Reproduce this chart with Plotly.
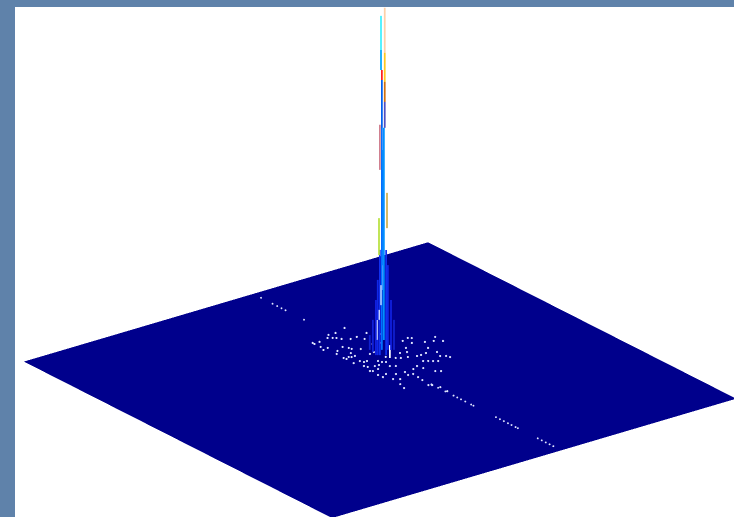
import plotly.graph_objects as go

# Ground plane (flat navy sheet)
PLANE_X = [-1, 1]
PLANE_Y = [-1, 1]
PLANE_Z = [[0, 0], [0, 0]]

# Dashed white row along the y direction
ROW_X = 0.128
ROW_Y = [.940, .865, .835, .807, .781, .661, -.165, -.209, -.256, -.309, -.333, -.357, -.385,
         -.423, -.438, -.584, -.610, -.635, -.662, -.685, -.711, -.726, -.855, -.881, -.907,
         -.932, -.956]

# Speckle around the peak
DOT_X = [.012, .011, .040, .012, .002, .028, .111, .089, .105, .117, .127, .155, .204, .145, .081, .040,
         .019, .094, .097, .069, .125, .199, .242, .187, .016, .019, .038, .047, .064, .016, .048, .055,
         .070, .030, .036, .018, .027, .064, .105, .056, .019, .123, .193, .147, .083, .228, .299, .283,
         .154, .111, .124, .179, .223, .273, .251, .340, .352, .322, .306, .369, .432, .403, .432, .342,
         .304, .345, .330, .349, .355, .258, .277, .223, .195, .262, .277, .293, .246, .196, .166, .203,
         .130, .111, .050, .021, .081, .041, .032, .020, .113, .135, .126, .131, .114, .126, .222, .240,
         .136, .139, .063, .121]
DOT_Y = [.453, .440, .445, .401, .370, .376, .480, .457, .445, .436, .416, .394, .498, .479, .349, .329,
         .306, .326, .311, .280, .289, .361, .405, .396, .257, .242, .253, .246, .247, .192, .194, .176,
         .177, .144, .127, .089, .082, .118, .151, .086, .038, .227, .301, .233, .116, .288, .349, .361,
         .165, .133, .124, .133, .163, .190, .154, .266, .256, .216, .254, .193, .209, .180, .158, .137,
         .101, .083, .043, .029, .011, .098, .097, .112, .121, .031, .019, .007, .043, .017, .002, -.014,
         .068, .082, .027, .009, .003, -.031, -.089, -.130, -.034, -.038, -.109, -.075, -.164, -.173,
         -.067, -.081, -.258, -.209, -.048, -.003]

# Peak ridges: position, height span, colour
RIDGE_X = [.104, .114, .123, .129, .136, .155, .161, .170, .180,
           .142, .148, .145, .145,
           .139, .139, .142, .142,
           .151, .151, .151, .151,
           .136, .158, .148, .133, .145,
           .145, .139, .133, .126, .167]
RIDGE_Y = [.203, .196, .188, .184, .179, .164, .160, .152, .145,
           .174, .169, .172, .172,
           .176, .176, .174, .174,
           .167, .167, .167, .167,
           .179, .162, .169, .181, .172,
           .172, .176, .181, .186, .155]
RIDGE_LOW = [.022, .016, .008, .008, .008, .008, .022, .022, .022,
             .022, .049, .184, .481,
             .832, .778, .751, .622,
             .824, .746, .692, .622,
             .508, .351, .351, .278, .508,
             .184, .143, .103, .049, 0]
RIDGE_HIGH = [.062, .103, .157, .211, .292, .292, .251, .157, .103,
              .622, .622, .562, .562,
              .924, .832, .778, .751,
              .946, .824, .746, .692,
              .630, .446, .395, .378, .562,
              .251, .197, .130, .103, .035]
RIDGE_COLOR = ["#1020d0", "#1020d8", "#1020e0", "#1028e8", "#1030f0", "#1030f0", "#1028e8", "#1020e0", "#1020d0",
               "#0070ff", "#0090ff", "#30a0ff", "#0090ff",
               "#40f0ff", "#00a8ff", "#ff2020", "#0060f0",
               "#ffd0a8", "#ffc820", "#d07010", "#5050c0",
               "#d08090", "#d0b050", "#ffd020", "#b8e040", "#30d0e0",
               "#f0f4ff", "#a0c0ff", "#e0e8ff", "#e0e8ff", "#ffffff"]

fig = go.Figure()
fig.add_trace(go.Surface(x=PLANE_X, y=PLANE_Y, z=PLANE_Z, showscale=False,
                         colorscale=[[0, "#00008c"], [1, "#00008c"]], cmin=0, cmax=1,
                         lighting=dict(ambient=1, diffuse=0, specular=0, roughness=1, fresnel=0),
                         contours=dict(x=dict(highlight=False), y=dict(highlight=False), z=dict(highlight=False)),
                         hoverinfo="skip"))
for rx, ry, lo, hi, col in zip(RIDGE_X, RIDGE_Y, RIDGE_LOW, RIDGE_HIGH, RIDGE_COLOR):
    fig.add_trace(go.Scatter3d(x=[rx, rx], y=[ry, ry], z=[lo, hi], mode="lines",
                               line=dict(color=col, width=3.5), showlegend=False, hoverinfo="skip"))
fig.add_trace(go.Scatter3d(x=DOT_X, y=DOT_Y, z=[.003] * len(DOT_X), mode="markers",
                           marker=dict(color="#e0e6ff", size=1.25, line=dict(width=0)),
                           showlegend=False, hoverinfo="skip"))
fig.add_trace(go.Scatter3d(x=[ROW_X] * len(ROW_Y), y=ROW_Y, z=[.003] * len(ROW_Y), mode="markers",
                           marker=dict(color="#e0e6ff", size=1.1, line=dict(width=0)),
                           showlegend=False, hoverinfo="skip"))

hidden = dict(visible=False, showgrid=False, zeroline=False, showspikes=False, showbackground=False)
R = 1.5
fig.update_layout(
    width=734, height=517, margin=dict(l=0, r=0, t=0, b=0),
    paper_bgcolor="#5f82aa", showlegend=False,
    scene=dict(
        domain=dict(x=[15 / 734, 1], y=[0, 1 - 7 / 517]),
        bgcolor="#ffffff",
        aspectmode="manual", aspectratio=dict(x=1.994, y=1.994, z=1.575),
        xaxis=dict(range=[-1, 1], **hidden),
        yaxis=dict(range=[-1, 1], **hidden),
        zaxis=dict(range=[0, 1], **hidden),
        camera=dict(projection=dict(type="orthographic"),
                    up=dict(x=0, y=0, z=1),
                    center=dict(x=-.0173, y=.0131, z=-.285),
                    eye=dict(x=-.0173 - .559 * R, y=.0131 - .733 * R, z=-.285 + .387 * R)),
    ),
)
fig.write_html("out.html", config=dict(displayModeBar=False), post_script="document.body.style.margin='0';")
